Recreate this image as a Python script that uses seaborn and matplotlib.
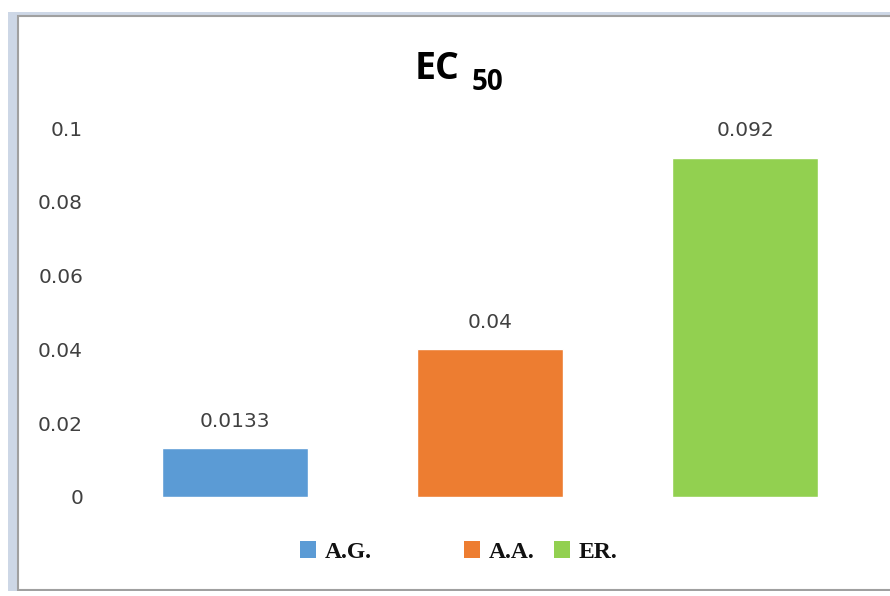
import matplotlib
matplotlib.use("Agg")
import matplotlib.pyplot as plt
import seaborn as sns
import pandas as pd
from matplotlib.patches import Rectangle

# Data
categories = ["A.G.", "A.A.", "ER."]
values = [0.0133, 0.04, 0.092]
value_labels = ["0.0133", "0.04", "0.092"]
colors = ["#5B9BD5", "#ED7D31", "#92D050"]
yticks = [0, 0.02, 0.04, 0.06, 0.08, 0.1]
ytick_labels = ["0", "0.02", "0.04", "0.06", "0.08", "0.1"]

sns.set_theme(style="white")
plt.rcParams['font.family'] = ['DejaVu Sans']

W, H = 890, 596
fig = plt.figure(figsize=(W / 100, H / 100), dpi=100)

def fx(px):
    return px / W

def fy(py):
    return 1 - py / H

# frame
for r in [
    Rectangle((fx(8), fy(596)), fx(890) - fx(8), fy(12) - fy(596),
              transform=fig.transFigure, facecolor="#CDD7E6", edgecolor="none"),
    Rectangle((fx(18), fy(590)), fx(900) - fx(18), fy(16) - fy(590),
              transform=fig.transFigure, facecolor="white",
              edgecolor="#A0A0A0", linewidth=1.5),
    Rectangle((0, 0), 1, fy(591), transform=fig.transFigure,
              facecolor="white", edgecolor="none"),
]:
    r.set_zorder(-10)
    fig.add_artist(r)

ax = fig.add_axes([fx(107.5), fy(497), fx(765), (497 - 128) / H])
ax.set_zorder(5)
ax.set_facecolor("none")
ax.patch.set_alpha(0)

df = pd.DataFrame({"cat": categories, "val": values})
sns.barplot(data=df, x="cat", y="val", hue="cat", palette=colors,
            width=0.573, saturation=1, legend=False, ax=ax)

ax.set_ylim(0, 0.1)
ax.set_xlim(-0.5, 2.5)
ax.set_yticks(yticks)
ax.set_yticklabels(ytick_labels, fontsize=14.5, color="#404040")
ax.tick_params(axis="y", length=0, pad=17.6)
ax.set_xticks([])
ax.set_xlabel("")
ax.set_ylabel("")
for s in ax.spines.values():
    s.set_visible(False)

for i, (v, lab) in enumerate(zip(values, value_labels)):
    ax.annotate(lab, (i, v), xytext=(0, 12.5), textcoords="offset points",
                ha="center", va="bottom", fontsize=14.5, color="#404040")

# title EC with subscript 50
fig.text(fx(415), fy(79), "EC", ha="left", va="baseline",
         fontsize=27, fontweight="bold", color="black",
         family=["Open Sans", "DejaVu Sans"], zorder=6)
fig.text(fx(472), fy(90), "50", ha="left", va="baseline",
         fontsize=20, fontweight="bold", color="black",
         family=["Open Sans", "DejaVu Sans"], zorder=6)

# legend (two groups to mimic uneven spacing)
handles = [Rectangle((0, 0), 1, 1, facecolor=c, edgecolor="none") for c in colors]
prop = {"family": "Liberation Serif", "weight": "bold", "size": 17}
common = dict(frameon=False, handlelength=0.68, handleheight=0.7,
              handletextpad=0.35, borderaxespad=0, borderpad=0)
leg1 = fig.legend(handles[:1], categories[:1], loc="center left",
                  bbox_to_anchor=(fx(300), fy(552)), ncol=1, prop=prop, **common)
leg2 = fig.legend(handles[1:], categories[1:], loc="center left",
                  bbox_to_anchor=(fx(464), fy(552)), ncol=2, prop=prop,
                  columnspacing=0.85, **common)
for lg in (leg1, leg2):
    lg.set_zorder(6)
    for t in lg.get_texts():
        t.set_color("#111111")

fig.savefig("out.png", dpi=100)
